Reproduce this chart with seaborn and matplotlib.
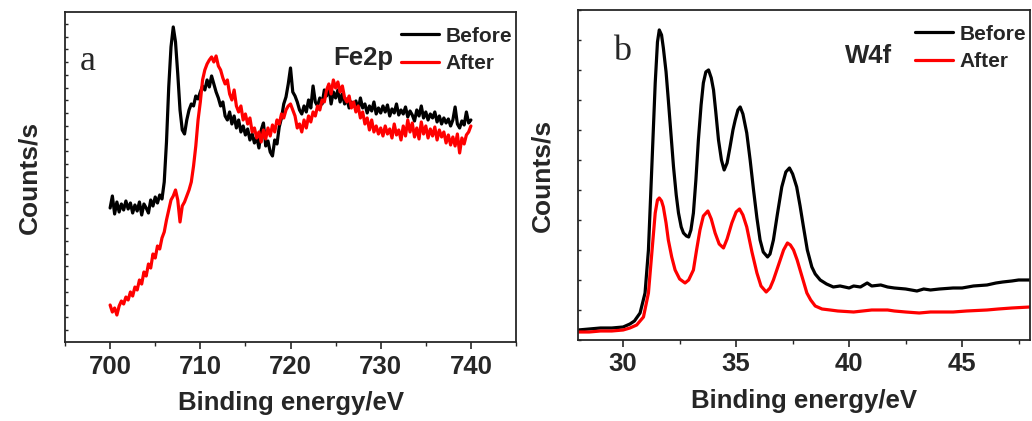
import numpy as np
import pandas as pd
import matplotlib
matplotlib.use('Agg')
import matplotlib.pyplot as plt
import seaborn as sns
from matplotlib.ticker import MultipleLocator, FixedLocator

# Fe2p spectra, read every 0.25 eV from 700 to 740 eV (arbitrary counts)
fe_before = [
    134, 146, 128, 140, 130, 138, 132, 141, 133, 139, 129, 137, 131, 140, 127, 138,
    134, 129, 142, 136, 145, 139, 147, 143, 160, 200, 255, 295, 315, 300, 268, 232,
    212, 208, 222, 232, 238, 236, 246, 243, 250, 256, 252, 262, 255, 266, 258, 250,
    244, 236, 240, 226, 222, 230, 218, 226, 214, 222, 210, 216, 207, 213, 202, 208,
    199, 205, 194, 212, 219, 196, 201, 190, 186, 202, 198, 215, 224, 238, 245, 258,
    274, 250, 246, 240, 232, 228, 236, 230, 242, 234, 256, 240, 236, 244, 238, 252,
    246, 256, 238, 250, 244, 252, 240, 248, 238, 243, 234, 240, 236, 241, 232, 244,
    234, 238, 229, 236, 231, 240, 228, 234, 229, 236, 230, 237, 226, 233, 229, 238,
    227, 232, 228, 235, 225, 231, 227, 221, 232, 226, 236, 224, 230, 222, 228, 224,
    230, 220, 226, 218, 224, 219, 223, 216, 222, 235, 218, 214, 221, 217, 230, 219,
    222,
]
fe_after = [
    37, 30, 34, 27, 36, 41, 38, 45, 42, 50, 46, 55, 52, 62, 58, 70,
    66, 78, 74, 88, 84, 96, 93, 104, 110, 122, 132, 142, 146, 152, 142, 120,
    136, 140, 146, 152, 160, 176, 196, 222, 240, 262, 272, 278, 282, 285, 280, 286,
    276, 272, 264, 258, 262, 248, 242, 252, 236, 230, 236, 222, 228, 218, 224, 210,
    214, 204, 210, 200, 212, 203, 214, 206, 217, 210, 222, 218, 228, 224, 232, 236,
    238, 232, 226, 214, 218, 210, 222, 214, 226, 220, 230, 226, 236, 232, 242, 240,
    252, 258, 248, 262, 254, 260, 250, 256, 244, 240, 246, 234, 240, 230, 236, 224,
    230, 218, 224, 212, 222, 210, 216, 208, 214, 206, 216, 208, 213, 204, 218, 207,
    212, 202, 216, 206, 222, 210, 219, 205, 214, 203, 220, 208, 216, 204, 213, 206,
    215, 202, 212, 205, 210, 199, 207, 197, 205, 196, 208, 189, 204, 198, 207, 210,
    216,
]

# W4f spectra (binding energy, counts)
w_energy_before = [
    28.0, 28.5, 29.0, 29.5, 30.0, 30.3, 30.5, 30.75, 30.97, 31.12, 31.27, 31.42, 31.52, 31.6,
    31.7, 31.78, 31.9, 32.0, 32.12, 32.23, 32.35, 32.45, 32.57, 32.67, 32.8, 32.9, 33.0,
    33.11, 33.22, 33.33, 33.45, 33.55, 33.66, 33.78, 33.9, 34.0, 34.1, 34.22, 34.35, 34.47,
    34.6, 34.73, 34.86, 34.96, 35.08, 35.18, 35.3, 35.47, 35.62, 35.77, 35.92, 36.06, 36.2,
    36.39, 36.5, 36.65, 36.82, 37.02, 37.2, 37.36, 37.5, 37.68, 37.83, 37.98, 38.15, 38.35,
    38.5, 38.72, 39.0, 39.3, 39.6, 40.0, 40.2, 40.5, 40.8, 41.0, 41.4, 41.7, 42.0, 42.5,
    43.0, 43.3, 43.6, 44.0, 44.6, 45.0, 45.5, 46.1, 46.5, 46.8, 47.2, 47.5, 48.0,
]
w_before = [
    10, 11, 12, 12, 13, 16, 19, 27, 47, 90, 173, 257, 298, 310,
    305, 292, 268, 240, 205, 173, 145, 127, 113, 107, 104, 103, 110,
    127, 160, 200, 235, 257, 268, 270, 262, 250, 228, 200, 180, 170,
    177, 193, 210, 220, 230, 233, 226, 207, 180, 150, 122, 100, 88,
    83, 86, 100, 125, 153, 168, 172, 166, 153, 134, 113, 90, 73,
    66, 60, 56, 53, 54, 52, 54, 53, 57, 54, 55, 53, 52, 51,
    49, 51, 50, 51, 52, 52, 54, 55, 57, 58, 59, 60, 60,
]
w_energy_after = [
    28.0, 28.5, 29.0, 29.5, 30.0, 30.3, 30.6, 30.9, 31.12, 31.27, 31.42, 31.52, 31.6, 31.7,
    31.78, 31.9, 32.0, 32.15, 32.3, 32.5, 32.74, 32.9, 33.11, 33.25, 33.4, 33.55, 33.75,
    33.9, 34.07, 34.25, 34.44, 34.6, 34.81, 35.0, 35.15, 35.3, 35.47, 35.7, 35.92, 36.1,
    36.33, 36.5, 36.65, 36.8, 36.95, 37.1, 37.27, 37.4, 37.54, 37.7, 37.83, 38.0, 38.13,
    38.3, 38.5, 38.8, 39.16, 39.5, 40.2, 40.6, 41.0, 41.7, 42.0, 42.5, 43.1, 43.6, 44.0,
    44.6, 45.2, 46.1, 46.6, 47.2, 48.0,
]
w_after = [
    8, 8, 9, 9, 10, 12, 15, 23, 47, 87, 127, 140, 142, 139,
    133, 117, 100, 83, 70, 61, 57, 60, 70, 90, 110, 124, 129,
    121, 107, 96, 92, 101, 117, 128, 131, 125, 113, 88, 67, 54,
    48, 52, 60, 70, 80, 90, 97, 95, 90, 80, 70, 57, 47,
    40, 34, 31, 30, 29, 28, 29, 30, 30, 29, 28, 27, 28, 28,
    28, 29, 30, 31, 32, 33,
]

sns.set_style('ticks')
plt.rcParams['font.family'] = ['Liberation Sans', 'DejaVu Sans']
plt.rcParams['font.weight'] = 'bold'

fe_df = pd.DataFrame({
    'energy': np.linspace(700, 740, len(fe_before)),
    'Before': fe_before,
    'After': fe_after,
})
w_df_before = pd.DataFrame({'energy': w_energy_before, 'counts': w_before})
w_df_after = pd.DataFrame({'energy': w_energy_after, 'counts': w_after})

fig = plt.figure(figsize=(10.32, 4.21), dpi=100)
ax1 = fig.add_axes([0.063, 0.1876, 0.437, 0.784])
ax2 = fig.add_axes([0.560, 0.1924, 0.438, 0.784])

lw = 2.3
sns.lineplot(data=fe_df, x='energy', y='Before', ax=ax1, color='black', linewidth=lw, label='Before')
sns.lineplot(data=fe_df, x='energy', y='After', ax=ax1, color='#ff0000', linewidth=lw, label='After')
sns.lineplot(data=w_df_before, x='energy', y='counts', ax=ax2, color='black', linewidth=lw, label='Before')
sns.lineplot(data=w_df_after, x='energy', y='counts', ax=ax2, color='#ff0000', linewidth=lw, label='After')

ax1.set_xlim(695, 745)
ax1.set_ylim(0, 330)
ax1.xaxis.set_major_locator(MultipleLocator(10))
ax1.xaxis.set_minor_locator(MultipleLocator(5))
ax1.yaxis.set_major_locator(FixedLocator(np.arange(12, 330, 12.75)))

ax2.set_xlim(28, 48)
ax2.set_ylim(0, 330)
ax2.xaxis.set_major_locator(MultipleLocator(5))
ax2.xaxis.set_minor_locator(MultipleLocator(2.5))
ax2.yaxis.set_major_locator(MultipleLocator(30))

for ax, letter, core, lx, ly, cx, cy in [
    (ax1, 'a', 'Fe2p', 0.033, 0.824, 0.594, 0.84),
    (ax2, 'b', 'W4f', 0.077, 0.848, 0.591, 0.838),
]:
    for side in ['top', 'right', 'bottom', 'left']:
        ax.spines[side].set_visible(True)
        ax.spines[side].set_linewidth(1.3)
    ax.tick_params(axis='x', which='major', direction='out', length=5, width=1.2,
                   labelsize=18.5, pad=4)
    ax.tick_params(axis='x', which='minor', direction='out', length=3, width=1.0)
    ax.tick_params(axis='y', which='major', direction='in', length=2.5, width=1.0,
                   labelleft=False)
    for lab in ax.get_xticklabels():
        lab.set_fontweight('bold')
    ax.set_xlabel('Binding energy/eV', fontsize=18.5, fontweight='bold', labelpad=9)
    ax.set_ylabel('Counts/s', fontsize=19, fontweight='bold', labelpad=17)
    ax.text(lx, ly, letter, transform=ax.transAxes, fontsize=26,
            family=['Liberation Serif', 'DejaVu Serif'], fontweight='normal')
    ax.text(cx, cy, core, transform=ax.transAxes, fontsize=18.5, fontweight='bold')
    leg = ax.legend(loc='upper right', bbox_to_anchor=(1.0, 0.968), frameon=False,
                    fontsize=15, handlelength=1.8, handletextpad=0.3,
                    labelspacing=0.42, borderpad=0.0, borderaxespad=0.2)
    for t in leg.get_texts():
        t.set_fontweight('bold')
    for h in leg.get_lines():
        h.set_linewidth(2.3)

fig.savefig('out.png', dpi=100)
